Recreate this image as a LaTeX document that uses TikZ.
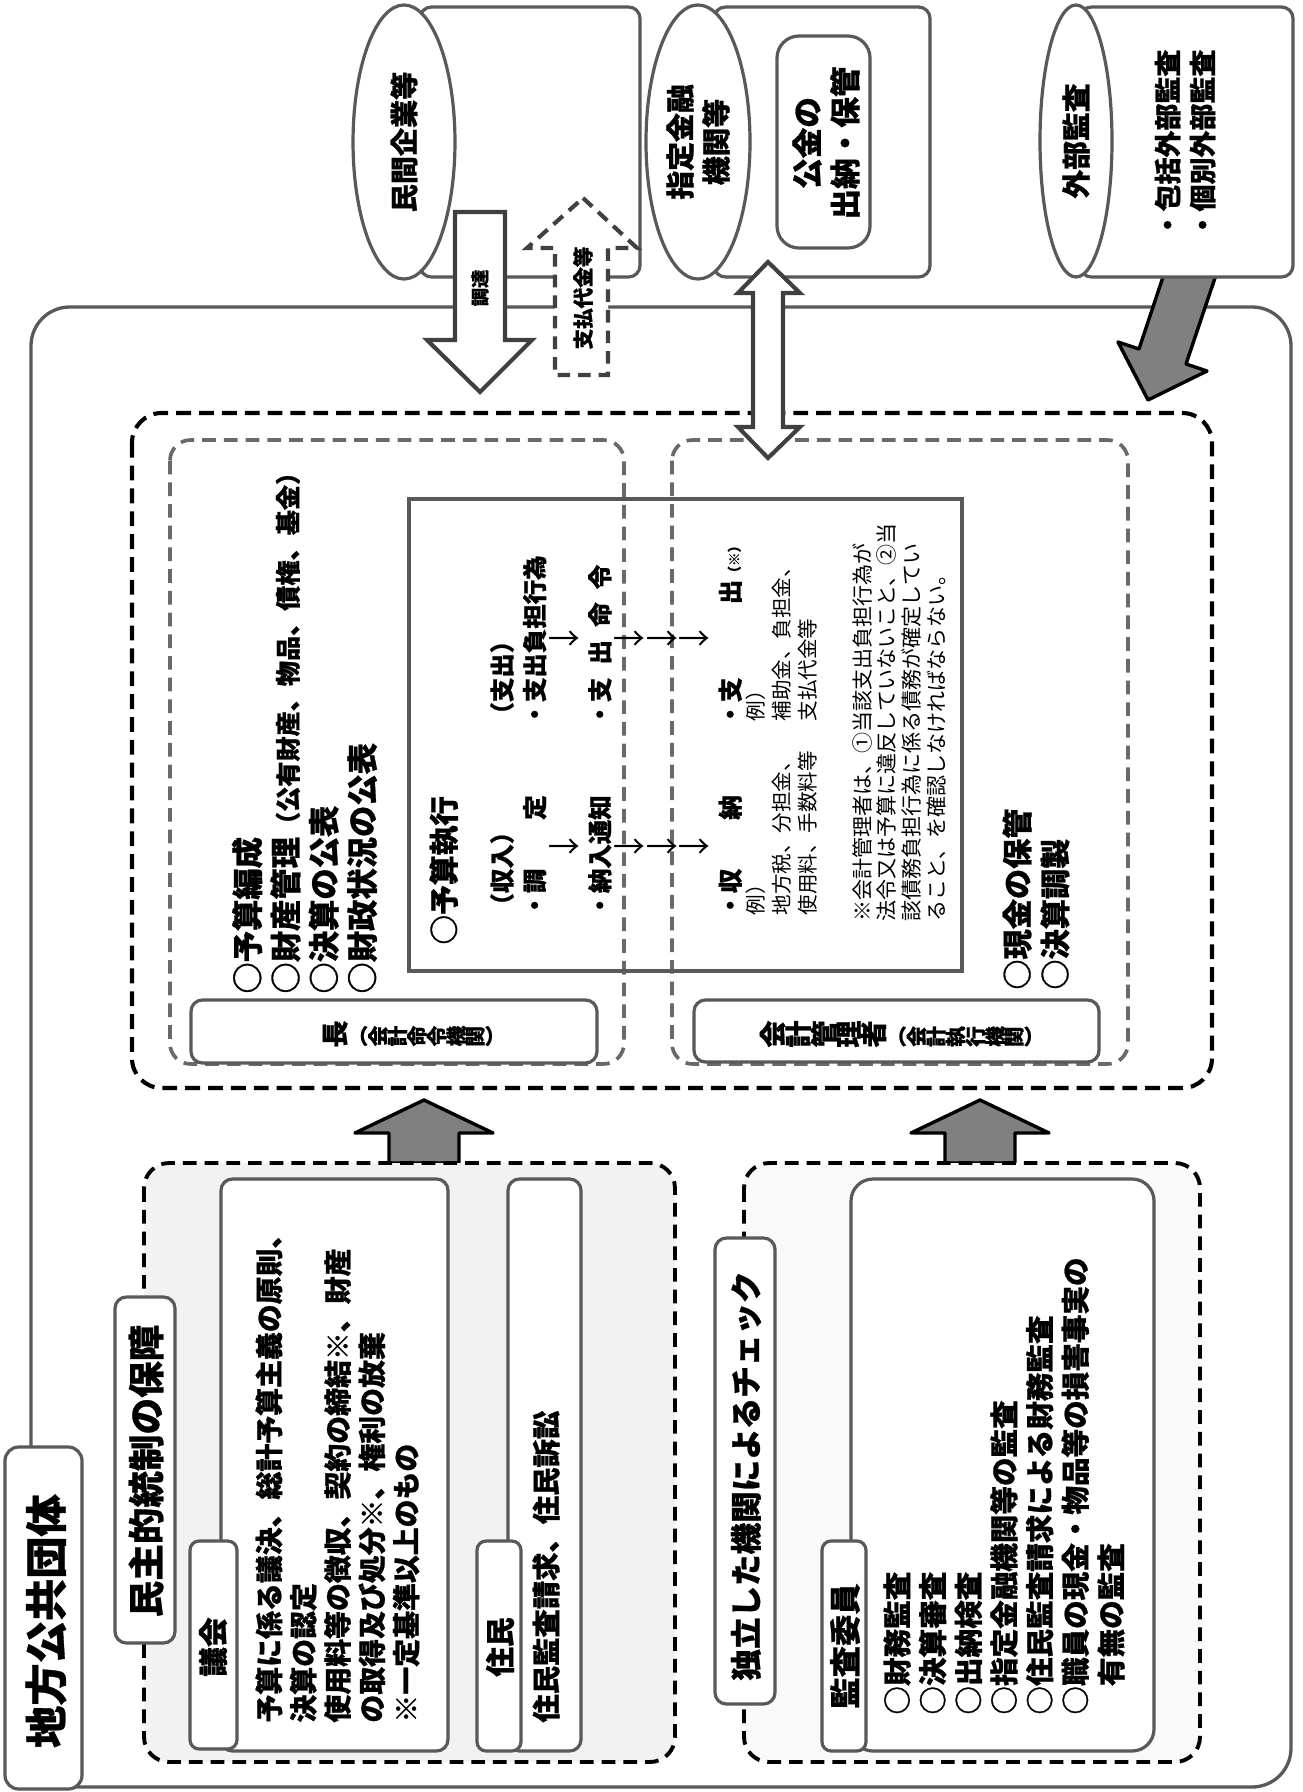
\documentclass[tikz,border=0pt]{standalone}
\usepackage{fontspec}
\setmainfont{Noto Sans CJK JP}[BoldFeatures={FakeBold=0.8}]
\usepackage{graphicx}
\usetikzlibrary{shapes.geometric,calc}
\definecolor{boxline}{RGB}{89,89,89}
\definecolor{dashline}{RGB}{105,105,105}
\definecolor{arrowline}{RGB}{64,64,64}
\definecolor{arrowfill}{RGB}{128,128,128}
\definecolor{groupfill}{RGB}{242,242,242}
\definecolor{checkfill}{RGB}{249,249,249}
\makeatletter
\newcommand\sidechars[1]{\@tfor\sc@ch:=#1\do{\rotatebox[origin=c]{90}{\sc@ch}}}
\makeatother
\newcommand\fsz[2]{\fontsize{#1}{#2}\selectfont}
\newcommand\flowdown[1]{\hspace*{#1}{\mdseries\fsz{14}{14.26}↓}}
\tikzset{vt/.style 2 args={rotate=90,inner sep=0pt,font=\bfseries\fsz{#1}{#2}},
 vb/.style 2 args={vt={#1}{#2},anchor=west,align=left},
 vtr/.style 2 args={rotate=90,inner sep=0pt,font=\fsz{#1}{#2}},
 vbr/.style 2 args={vtr={#1}{#2},anchor=west,align=left},
 outerbox/.style={draw=boxline,line width=1.45pt,rounded corners=17pt},
 graybox/.style={draw=boxline,line width=1.4pt,fill=white,rounded corners=#1},
 graybox/.default=5pt,
 cylend/.style={ellipse,draw=boxline,line width=1.4pt,fill=white,rotate=90,inner sep=0pt},
 maindash/.style={draw=black,line width=1.8pt,dash pattern=on 6.5pt off 3.5pt,rounded corners=13pt},
 subdash/.style={draw=dashline,line width=1.6pt,dash pattern=on 6pt off 3.5pt,rounded corners=9pt},
 groupdash/.style={draw=black,line width=1.7pt,dash pattern=on 6pt off 3.5pt,rounded corners=11pt},
 execbox/.style={draw=boxline,line width=1.4pt},
 hollowarrow/.style={draw=arrowline,line width=1.8pt,fill=white},
 solidarrow/.style={draw=black,line width=1.5pt,fill=arrowfill,line join=round}}

\begin{document}
\begin{tikzpicture}[x=0.4375pt,y=-0.4375pt]
\useasboundingbox (0,0) rectangle (1303,1792);
\fill[white] (0,0) rectangle (1303,1792);

% frame of the local government
\draw[outerbox] (31,307) rectangle (1291,1787);
\draw[graybox=6pt] (5,1447) rectangle (82,1789);
\node[vt={18.5}{18.5}] (dantai) at (46,1621) {地方公共団体};

% external audit arrow, under its cylinder
\coordinate (gaibuTip) at (1148,400);
\draw[solidarrow] (gaibuTip) -- (1118,342) -- (1139,349) -- (1172,250) -- (1219,266) -- (1186,364) -- (1207,371) -- cycle;

% outside bodies
\draw[graybox] (420,7) rectangle (640,277);
\node[cylend,minimum width=119.9pt,minimum height=44.6pt,font=\bfseries\fsz{12.3}{15}] (minkan) at (404,142) {民間企業等};
\draw[graybox] (714,7) rectangle (930,277);
\node[cylend,minimum width=119.9pt,minimum height=45.5pt,align=center,font=\bfseries\fsz{12.6}{15.75}] (shitei) at (698,142) {指定金融\\機関等};
\draw[graybox=9.6pt] (777,36) rectangle (870,248);
\node[vt={13.4}{16.6},align=center] (kokin) at (826,143) {公金の\\出納・保管};
\draw[graybox] (1080,7) rectangle (1293,277);
\node[cylend,minimum width=119pt,minimum height=31.5pt,font=\bfseries\fsz{12.6}{15}] (gaibu) at (1076,141) {外部監査};
\node[vt={11.8}{15.3},align=left] (gaibuList) at (1185,144) {・包括外部監査\\・個別外部監査};

% procurement and payment
\coordinate (chotatsuTip) at (480,392);
\draw[hollowarrow] (chotatsuTip) -- ++(52,-52) -- ++(-27,0) -- ++(0,-128) -- ++(-50,0) -- ++(0,128) -- ++(-28,0) -- cycle;
\node[vt={8}{8}] (chotatsu) at (480,288) {調達};
\coordinate (shiharaiTip) at (583,198);
\draw[hollowarrow,dash pattern=on 5.5pt off 3.5pt] (shiharaiTip) -- ++(54,50) -- ++(-29,0) -- ++(0,127) -- ++(-53,0) -- ++(0,-127) -- ++(-28,0) -- cycle;
\node[vt={9}{9}] (shiharai) at (583,298) {支払代金等};

% executive organs
\draw[maindash] (132,413) rectangle (1212,1088);
\draw[subdash] (170,440) rectangle (624,1064);
\draw[subdash] (672,440) rectangle (1128,1064);
\draw[execbox] (409,499) rectangle (962,971);
\node[vb={13.7}{16.75}] (chouList) at (304.5,994) {○予算編成\\○財産管理{\fsz{11}{16.75}（公有財産、物品、債権、基金）}\\○決算の公表\\○財政状況の公表};
\node[vt={13}{13},anchor=west] (yosan) at (444,945) {○予算執行};
\node[vb={10.7}{14.26}] (shunyu) at (616,918) {（収入）\\・調　　定\\\flowdown{2.25em}\\・納入通知\\\flowdown{2.25em}\\\flowdown{2.25em}\\\flowdown{2.25em}\\・収　　納};
\node[vb={10.7}{14.26}] (shishutsu) at (616,727) {（支出）\\・支出負担行為\\\flowdown{2.95em}\\・支\hspace{.54em}出\hspace{.54em}命\hspace{.54em}令\\\flowdown{2.95em}\\\flowdown{2.95em}\\\flowdown{2.95em}\\・支　　　出{\fsz{6}{6}（※）}};
\node[vbr={9}{11.2}] (reiShunyu) at (781.5,916) {例）\\地方税、分担金、\\使用料、手数料等};
\node[vbr={9}{11.2}] (reiShishutsu) at (781.5,722) {例）\\補助金、負担金、\\支払代金等};
\node[vbr={9.2}{10.8}] (chui) at (899,922) {※会計管理者は、①当該支出負担行為が\\法令又は予算に違反していないこと、②当\\該債務負担行為に係る債務が確定してい\\ること、を確認しなければならない。};
\node[vb={13.2}{16.6}] (kaikeiList) at (1036,990) {○現金の保管\\○決算調製};
\draw[graybox] (191,1000) rectangle (597,1063);
\node[inner sep=0pt,font=\bfseries\fsz{11.8}{12}] (chouLabel) at (414,1034) {\sidechars{長}{\fsz{9}{9}（\sidechars{会計命令機関}）}};
\draw[graybox] (694,1000) rectangle (1099,1062);
\node[inner sep=0pt,font=\bfseries\fsz{11.8}{12}] (kaikeiLabel) at (902,1034) {\sidechars{会計管理者}{\fsz{9}{9}（\sidechars{会計執行機関}）}};

% cash in and out with the bank
\coordinate (kinkoTop) at (768,262);
\coordinate (kinkoBottom) at (768,458);
\draw[hollowarrow] (kinkoTop) -- ++(32,31) -- ++(-17,0) -- ++(0,134) -- ++(17,0) -- (kinkoBottom) -- ++(-30,-31) -- ++(15,0) -- ++(0,-134) -- ++(-15,0) -- cycle;

% checks from below
\foreach \tx/\nm in {424/upChou,980/upKaikei}{
  \coordinate (\nm) at (\tx,1100);
  \draw[solidarrow] (\nm) -- ++(69,33) -- ++(-34,0) -- ++(0,30) -- ++(-70,0) -- ++(0,-30) -- ++(-34,0) -- cycle;
}

% democratic control
\draw[groupdash,fill=groupfill] (144,1163) rectangle (675,1762);
\draw[graybox] (221,1179) rectangle (448,1751);
\draw[graybox] (508,1179) rectangle (581,1751);
\draw[graybox=4pt] (190,1541) rectangle (237,1749);
\node[vt={13}{13}] (gikai) at (213,1647) {議会};
\draw[graybox=4pt] (477,1541) rectangle (521,1751);
\node[vt={13}{13}] (jumin) at (500,1647) {住民};
\node[vb={12.2}{15}] (gikaiList) at (337.5,1723) {予算に係る議決、総計予算主義の原則、\\決算の認定\\使用料等の徴収、契約の締結※、財産\\の取得及び処分※、権利の放棄\\※一定基準以上のもの};
\node[vt={12.4}{12.4},anchor=west] (juminList) at (546,1723) {住民監査請求、住民訴訟};
\draw[graybox] (115,1297) rectangle (175,1643);
\node[vt={16}{16}] (minshu) at (146,1471) {民主的統制の保障};

% independent audit
\draw[groupdash,fill=checkfill] (744,1163) rectangle (1200,1762);
\draw[graybox=9.6pt] (851,1179) rectangle (1154,1751);
\draw[graybox=4pt] (822,1541) rectangle (866,1751);
\node[vt={13.7}{13.7}] (kansa) at (845,1646) {監査委員};
\node[vb={12.5}{15.6}] (kansaList) at (1004,1715) {○財務監査\\○決算審査\\○出納検査\\○指定金融機関等の監査\\○住民監査請求による財務監査\\○職員の現金・物品等の損害事実の\\　有無の監査};
\draw[graybox] (715,1238) rectangle (775,1704);
\node[vt={13.8}{13.8}] (dokuritsu) at (746,1476) {独立した機関によるチェック};
\end{tikzpicture}
\end{document}
